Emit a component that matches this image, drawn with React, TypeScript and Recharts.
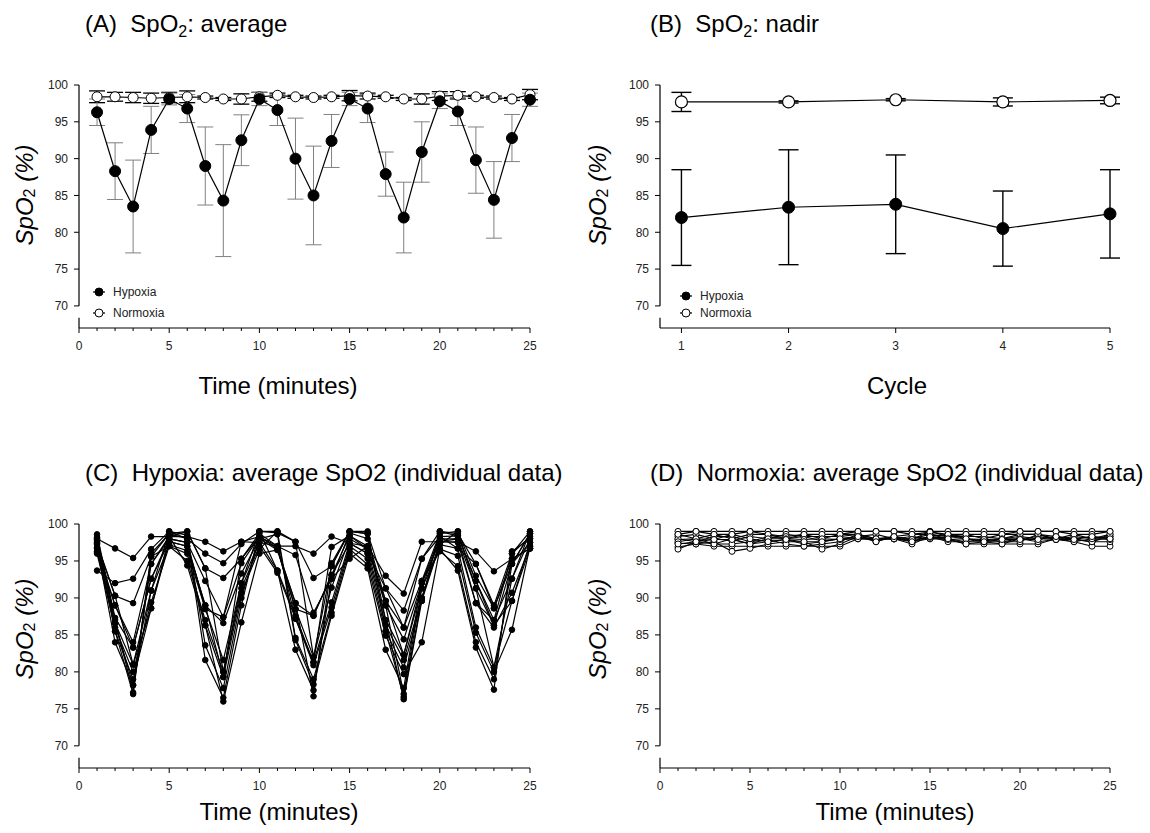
import { LineChart, Line, XAxis, YAxis, ErrorBar, ReferenceLine } from 'recharts'

const FONT = '"Liberation Sans", Arial, Helvetica, sans-serif'

const MINUTES = [1, 2, 3, 4, 5, 6, 7, 8, 9, 10, 11, 12, 13, 14, 15, 16, 17, 18, 19, 20, 21, 22, 23, 24, 25]
const TIME_TICKS = [0, 1, 2, 3, 4, 5, 6, 7, 8, 9, 10, 11, 12, 13, 14, 15, 16, 17, 18, 19, 20, 21, 22, 23, 24, 25]
const CYCLES = [1, 2, 3, 4, 5]
const Y_TICKS = [70, 75, 80, 85, 90, 95, 100]

// (A) group means +- SD per minute
const HYP_MEAN = [96.3, 88.3, 83.5, 93.9, 98.1, 96.8, 89.0, 84.3, 92.5, 98.1, 96.6, 90.0, 85.0, 92.4, 98.1, 96.8, 87.9, 82.0, 90.9, 97.8, 96.4, 89.8, 84.4, 92.8, 98.0]
const HYP_SD = [1.8, 3.85, 6.3, 3.2, 0.8, 1.9, 5.3, 7.6, 3.45, 0.9, 2.1, 5.5, 6.7, 3.6, 0.9, 1.9, 3.0, 4.8, 4.1, 1.0, 1.9, 4.5, 5.2, 3.2, 0.9]
const NOR_MEAN = [98.4, 98.4, 98.3, 98.2, 98.3, 98.4, 98.3, 98.1, 98.1, 98.4, 98.6, 98.4, 98.3, 98.4, 98.55, 98.5, 98.4, 98.1, 98.1, 98.5, 98.6, 98.4, 98.3, 98.1, 98.7]
const NOR_SD = [0.8, 0.6, 0.7, 0.7, 0.7, 0.8, 0.2, 0.2, 0.7, 0.6, 0.3, 0.2, 0.2, 0.2, 0.7, 0.4, 0.2, 0.2, 0.7, 0.6, 0.5, 0.2, 0.2, 0.2, 0.7]

// (B) nadir per cycle
const NADIR_HYP = [82.0, 83.4, 83.8, 80.5, 82.5]
const NADIR_HYP_SD = [6.5, 7.8, 6.7, 5.1, 6.0]
const NADIR_NOR = [97.7, 97.7, 98.0, 97.7, 97.9]
const NADIR_NOR_SD = [1.3, 0.15, 0.15, 0.55, 0.45]

// (C) individual hypoxia traces
const HYP_SUBJECTS = [
    [98.0, 96.7, 95.4, 98.3, 98.3, 98.3, 97.6, 96.3, 97.6, 98.3, 97.0, 97.0, 96.0, 98.3, 97.4, 97.0, 93.0, 90.6, 97.6, 97.6, 97.6, 96.3, 93.6, 95.3, 96.7],
    [93.7, 92.0, 92.6, 96.6, 99.0, 98.0, 96.0, 94.7, 97.3, 99.0, 98.8, 97.6, 92.7, 94.3, 99.0, 98.7, 91.3, 88.3, 95.3, 99.0, 98.7, 94.6, 89.0, 96.0, 99.0],
    [97.3, 90.3, 89.3, 95.6, 98.7, 99.0, 94.0, 92.7, 95.3, 98.7, 97.0, 95.8, 88.0, 92.6, 98.8, 98.0, 89.6, 86.0, 92.3, 98.7, 99.0, 93.0, 88.6, 94.6, 98.7],
    [96.2, 89.0, 84.0, 94.6, 98.0, 97.5, 92.3, 87.4, 94.7, 98.3, 96.7, 89.3, 87.6, 93.1, 98.4, 97.0, 89.0, 84.4, 92.0, 98.3, 98.4, 92.3, 87.0, 92.6, 98.0],
    [98.6, 87.3, 83.3, 92.6, 97.6, 97.0, 89.0, 86.6, 93.3, 98.0, 96.5, 88.5, 82.0, 91.4, 98.0, 96.6, 87.0, 82.3, 91.3, 98.0, 98.0, 91.3, 86.3, 94.6, 97.5],
    [97.9, 86.6, 81.0, 91.0, 97.2, 96.4, 88.5, 81.6, 92.0, 97.5, 93.7, 87.6, 81.3, 89.4, 97.4, 96.0, 86.3, 81.6, 90.0, 97.6, 97.5, 89.3, 86.0, 90.7, 97.0],
    [96.0, 86.0, 80.0, 89.4, 97.0, 95.0, 87.0, 80.0, 91.3, 97.0, 93.4, 87.2, 80.9, 88.7, 97.0, 95.3, 85.5, 80.6, 89.6, 97.2, 96.7, 86.0, 80.6, 89.6, 96.7],
    [97.5, 85.5, 79.0, 88.6, 98.3, 94.4, 86.3, 79.3, 90.7, 96.6, 99.0, 84.6, 79.0, 88.0, 96.6, 94.5, 84.9, 79.7, 84.0, 96.6, 95.7, 85.3, 80.0, 85.7, 97.0],
    [96.8, 84.0, 78.2, 91.0, 99.0, 98.5, 83.6, 77.8, 90.0, 98.0, 98.6, 84.3, 78.3, 87.6, 96.0, 94.0, 83.0, 77.8, 92.3, 96.3, 94.3, 84.0, 79.0, 94.6, 98.7],
    [98.2, 87.0, 77.2, 96.0, 98.7, 98.0, 81.6, 76.5, 89.0, 99.0, 93.7, 83.0, 77.5, 92.6, 95.3, 97.0, 89.0, 77.0, 91.3, 96.6, 93.7, 83.3, 77.6, 96.3, 98.0],
    [97.7, 85.5, 77.0, 95.6, 97.0, 96.0, 86.3, 76.0, 86.7, 96.0, 96.5, 89.3, 76.7, 94.7, 99.0, 99.0, 85.5, 76.6, 90.0, 97.2, 99.0, 91.3, 80.6, 92.6, 99.0],
    [96.3, 86.6, 78.2, 94.6, 98.3, 99.0, 94.0, 80.0, 92.0, 99.0, 99.0, 97.6, 82.0, 94.3, 99.0, 98.7, 87.0, 76.3, 89.6, 99.0, 98.4, 92.3, 86.3, 89.6, 97.5],
    [97.3, 90.3, 81.0, 88.6, 97.6, 97.0, 89.0, 79.3, 95.3, 98.3, 96.7, 88.5, 87.6, 93.1, 97.4, 96.0, 91.3, 86.0, 95.3, 98.3, 96.7, 94.6, 88.6, 95.3, 96.7],
    [96.7, 89.0, 83.3, 92.6, 98.0, 97.5, 88.5, 87.4, 97.6, 97.5, 97.0, 87.2, 81.3, 96.9, 98.4, 96.6, 89.6, 82.3, 92.0, 97.6, 98.0, 89.3, 87.0, 96.0, 98.3],
]

// (D) individual normoxia traces
const NOR_SUBJECTS = [
    [99.0, 99.0, 99.0, 99.0, 99.0, 99.0, 99.0, 99.0, 99.0, 99.0, 99.0, 99.0, 99.0, 99.0, 99.0, 99.0, 99.0, 99.0, 99.0, 99.0, 99.0, 99.0, 99.0, 99.0, 99.0],
    [98.6, 98.0, 98.6, 98.0, 98.6, 98.6, 98.0, 98.6, 98.0, 98.6, 98.6, 98.0, 98.3, 98.6, 98.6, 98.3, 98.6, 98.0, 98.6, 98.6, 98.6, 98.0, 98.6, 98.0, 98.6],
    [98.3, 98.6, 98.0, 97.7, 98.3, 98.0, 98.6, 98.3, 97.7, 98.0, 98.3, 98.6, 98.0, 97.7, 98.3, 98.6, 98.0, 97.7, 98.0, 98.3, 98.0, 98.3, 98.0, 98.3, 98.0],
    [97.9, 98.0, 97.3, 98.0, 97.3, 97.6, 97.9, 97.3, 97.6, 98.0, 98.0, 97.9, 98.0, 98.0, 98.6, 98.0, 97.6, 98.0, 97.6, 98.0, 98.3, 97.9, 98.0, 97.6, 98.3],
    [97.4, 97.3, 97.0, 97.0, 97.0, 97.0, 97.0, 97.0, 97.0, 97.0, 98.0, 98.0, 98.0, 97.6, 98.0, 97.9, 97.3, 97.3, 97.3, 97.3, 97.3, 98.0, 97.6, 97.0, 97.0],
    [96.9, 97.3, 97.6, 96.3, 96.7, 97.3, 97.6, 97.6, 96.6, 97.3, 98.3, 97.9, 98.0, 97.3, 98.3, 97.6, 97.6, 97.6, 97.6, 97.6, 98.6, 97.9, 97.9, 97.6, 97.6],
    [96.6, 97.6, 97.3, 97.3, 97.6, 97.9, 97.3, 97.0, 97.3, 97.6, 98.6, 98.0, 98.0, 98.3, 98.0, 98.3, 98.0, 97.6, 97.3, 98.0, 97.6, 97.9, 98.3, 98.0, 98.3],
    [98.0, 97.6, 98.3, 98.3, 97.6, 98.3, 98.0, 98.3, 98.3, 98.3, 98.6, 97.6, 98.3, 97.9, 99.0, 98.3, 98.3, 98.3, 98.0, 98.6, 98.6, 98.3, 97.9, 97.6, 98.6],
    [98.6, 99.0, 98.6, 98.6, 99.0, 98.6, 98.3, 98.6, 98.6, 98.6, 99.0, 99.0, 99.0, 98.6, 98.9, 98.6, 98.6, 98.6, 98.6, 99.0, 99.0, 99.0, 98.6, 98.6, 99.0],
    [97.6, 98.0, 97.9, 97.9, 97.3, 98.0, 98.0, 97.9, 98.0, 97.9, 98.0, 98.0, 98.0, 97.9, 98.2, 97.9, 98.0, 97.9, 98.0, 98.0, 98.0, 97.9, 97.6, 98.0, 97.9],
    [97.3, 97.6, 97.9, 98.6, 98.0, 97.6, 97.9, 97.6, 97.6, 98.0, 98.3, 97.6, 98.3, 97.6, 98.3, 98.0, 97.3, 97.6, 97.9, 97.9, 97.9, 98.3, 97.9, 98.3, 98.0],
]

const dataA = MINUTES.map((t, i) => ({ t, hyp: HYP_MEAN[i], hypSd: HYP_SD[i], nor: NOR_MEAN[i], norSd: NOR_SD[i] }))
const dataB = CYCLES.map((c, i) => ({ c, hyp: NADIR_HYP[i], hypSd: NADIR_HYP_SD[i], nor: NADIR_NOR[i], norSd: NADIR_NOR_SD[i] }))

function subjectRows(subjects: number[][]) {
    return MINUTES.map((t, i) => {
        const row: Record<string, number> = { t }
        subjects.forEach((s, k) => { row['s' + k] = s[i] })
        return row
    })
}
const dataC = subjectRows(HYP_SUBJECTS)
const dataD = subjectRows(NOR_SUBJECTS)

function AxisTick(props: any) {
    const { x, y, payload, minorEvery } = props
    const major = minorEvery ? payload.value % minorEvery === 0 : true
    return (
        <g>
            <line x1={x} x2={x} y1={y} y2={y + (major ? 5 : 3)} stroke='#000' strokeWidth={1} />
            {major && (
                <text x={x} y={y + 22} textAnchor='middle' fontSize={12} fill='#222' fontFamily={FONT}>
                    {payload.value}
                </text>
            )}
        </g>
    )
}

// y axis drawn in two pieces to get the break below 70
function brokenYAxis(x0: number) {
    return [
        <ReferenceLine key='yaxis-top' segment={[{ x: x0, y: 70 }, { x: x0, y: 100 }]} stroke='#000' strokeWidth={1.2} />,
        <ReferenceLine key='yaxis-bottom' segment={[{ x: x0, y: 67 }, { x: x0, y: 68.4 }]} stroke='#000' strokeWidth={1.2} />,
    ]
}

function yAxis(width: number) {
    return (
        <YAxis
            type='number'
            domain={[67, 100]}
            ticks={Y_TICKS}
            interval={0}
            width={width}
            axisLine={false}
            tickLine={{ stroke: '#000' }}
            tickSize={5}
            tickMargin={6}
            tick={{ fontSize: 12, fill: '#222', fontFamily: FONT }}
        />
    )
}

function timeAxis() {
    return (
        <XAxis
            type='number'
            dataKey='t'
            domain={[0, 25]}
            ticks={TIME_TICKS}
            interval={0}
            height={30}
            tickSize={0}
            tickMargin={0}
            tickLine={false}
            axisLine={{ stroke: '#000', strokeWidth: 1.2 }}
            tick={<AxisTick minorEvery={5} />}
        />
    )
}

function LegendItem({ x, y, filled, label }: { x: number, y: number, filled: boolean, label: string }) {
    return (
        <g>
            <line x1={x - 6} x2={x + 6} y1={y} y2={y} stroke='#000' strokeWidth={1.2} />
            <circle cx={x} cy={y} r={4} fill={filled ? '#000' : '#fff'} stroke='#000' strokeWidth={1} />
            <text x={x + 14} y={y + 4} fontSize={12} fill='#222' fontFamily={FONT}>{label}</text>
        </g>
    )
}

function Title({ x, y, prefix, sub, rest }: { x: number, y: number, prefix: string, sub?: string, rest?: string }) {
    return (
        <text x={x} y={y} fontSize={24} fill='#000' fontFamily={FONT} style={{ whiteSpace: 'pre' }}>
            <tspan>{prefix}</tspan>
            {sub && <tspan fontSize={16} dy={5}>{sub}</tspan>}
            {rest && <tspan dy={sub ? -5 : 0}>{rest}</tspan>}
        </text>
    )
}

function YLabel({ cx, cy }: { cx: number, cy: number }) {
    return (
        <text transform={`translate(${cx},${cy}) rotate(-90)`} textAnchor='middle' dominantBaseline='central'
            fontSize={24} fill='#000' fontFamily={FONT} style={{ whiteSpace: 'pre' }}>
            <tspan fontStyle='italic'>SpO</tspan>
            <tspan fontSize={16} dy={5}>2</tspan>
            <tspan dy={-5} fontStyle='italic'> (%)</tspan>
        </text>
    )
}

function XLabel({ cx, y, text }: { cx: number, y: number, text: string }) {
    return <text x={cx} y={y} textAnchor='middle' fontSize={24} fill='#000' fontFamily={FONT}>{text}</text>
}

export default function App() {
    return (
        <div style={{ position: 'absolute', left: 0, top: 0, width: 1150, height: 833, background: '#fff', fontFamily: FONT }}>
            {/* (A) average */}
            <div style={{ position: 'absolute', left: 0, top: 0 }}>
                <LineChart width={575} height={416} data={dataA} margin={{ top: 85, right: 45, bottom: 58, left: 0 }}>
                    {timeAxis()}
                    {yAxis(79)}
                    {brokenYAxis(0)}
                    <Line dataKey='nor' stroke='#000' strokeWidth={1.2} activeDot={false} isAnimationActive={false}
                        dot={{ r: 5, fill: '#fff', stroke: '#000', strokeWidth: 1 }}>
                        <ErrorBar dataKey='norSd' width={8} stroke='#000' strokeWidth={1.3} direction='y' isAnimationActive={false} />
                    </Line>
                    <Line dataKey='hyp' stroke='#000' strokeWidth={1.2} activeDot={false} isAnimationActive={false}
                        dot={{ r: 5.5, fill: '#000', stroke: '#000', strokeWidth: 1 }}>
                        <ErrorBar dataKey='hypSd' width={8} stroke='#808080' strokeWidth={1} direction='y' isAnimationActive={false} />
                    </Line>
                </LineChart>
            </div>

            {/* (B) nadir */}
            <div style={{ position: 'absolute', left: 575, top: 0 }}>
                <LineChart width={575} height={416} data={dataB} margin={{ top: 85, right: 40, bottom: 58, left: 0 }}>
                    <XAxis type='number' dataKey='c' domain={[0.8, 5]} ticks={CYCLES} interval={0} height={30}
                        tickSize={0} tickMargin={0} tickLine={false} axisLine={{ stroke: '#000', strokeWidth: 1.2 }}
                        tick={<AxisTick />} />
                    {yAxis(85)}
                    {brokenYAxis(0.8)}
                    <Line dataKey='nor' stroke='#000' strokeWidth={1.2} activeDot={false} isAnimationActive={false}
                        dot={{ r: 6, fill: '#fff', stroke: '#000', strokeWidth: 1.2 }}>
                        <ErrorBar dataKey='norSd' width={10} stroke='#000' strokeWidth={1.4} direction='y' isAnimationActive={false} />
                    </Line>
                    <Line dataKey='hyp' stroke='#000' strokeWidth={1.2} activeDot={false} isAnimationActive={false}
                        dot={{ r: 6, fill: '#000', stroke: '#000', strokeWidth: 1 }}>
                        <ErrorBar dataKey='hypSd' width={10} stroke='#000' strokeWidth={1.4} direction='y' isAnimationActive={false} />
                    </Line>
                </LineChart>
            </div>

            {/* (C) hypoxia individual */}
            <div style={{ position: 'absolute', left: 0, top: 416 }}>
                <LineChart width={575} height={417} data={dataC} margin={{ top: 108, right: 45, bottom: 35, left: 0 }}>
                    {timeAxis()}
                    {yAxis(79)}
                    {brokenYAxis(0)}
                    {HYP_SUBJECTS.map((_, k) => (
                        <Line key={k} dataKey={'s' + k} stroke='#000' strokeWidth={1.2} activeDot={false} isAnimationActive={false}
                            dot={{ r: 2.8, fill: '#000', stroke: '#000', strokeWidth: 1 }} />
                    ))}
                </LineChart>
            </div>

            {/* (D) normoxia individual */}
            <div style={{ position: 'absolute', left: 575, top: 416 }}>
                <LineChart width={575} height={417} data={dataD} margin={{ top: 108, right: 40, bottom: 35, left: 0 }}>
                    {timeAxis()}
                    {yAxis(85)}
                    {brokenYAxis(0)}
                    {NOR_SUBJECTS.map((_, k) => (
                        <Line key={k} dataKey={'s' + k} stroke='#000' strokeWidth={1.1} activeDot={false} isAnimationActive={false}
                            dot={{ r: 3, fill: '#fff', stroke: '#000', strokeWidth: 1 }} />
                    ))}
                </LineChart>
            </div>

            {/* titles, axis titles, legends */}
            <svg width={1150} height={833} style={{ position: 'absolute', left: 0, top: 0, pointerEvents: 'none' }}>
                <Title x={85} y={32} prefix='(A)  SpO' sub='2' rest=': average' />
                <Title x={650} y={32} prefix='(B)  SpO' sub='2' rest=': nadir' />
                <Title x={85} y={481} prefix='(C)  Hypoxia: average SpO2 (individual data)' />
                <Title x={650} y={481} prefix='(D)  Normoxia: average SpO2 (individual data)' />

                <YLabel cx={24} cy={195} />
                <YLabel cx={597} cy={195} />
                <YLabel cx={24} cy={629} />
                <YLabel cx={597} cy={629} />

                <XLabel cx={278} y={394} text='Time (minutes)' />
                <XLabel cx={897} y={394} text='Cycle' />
                <XLabel cx={279} y={820} text='Time (minutes)' />
                <XLabel cx={895} y={820} text='Time (minutes)' />

                <LegendItem x={99} y={292} filled label='Hypoxia' />
                <LegendItem x={99} y={313} filled={false} label='Normoxia' />
                <LegendItem x={686} y={296} filled label='Hypoxia' />
                <LegendItem x={686} y={313} filled={false} label='Normoxia' />
            </svg>
        </div>
    )
}
